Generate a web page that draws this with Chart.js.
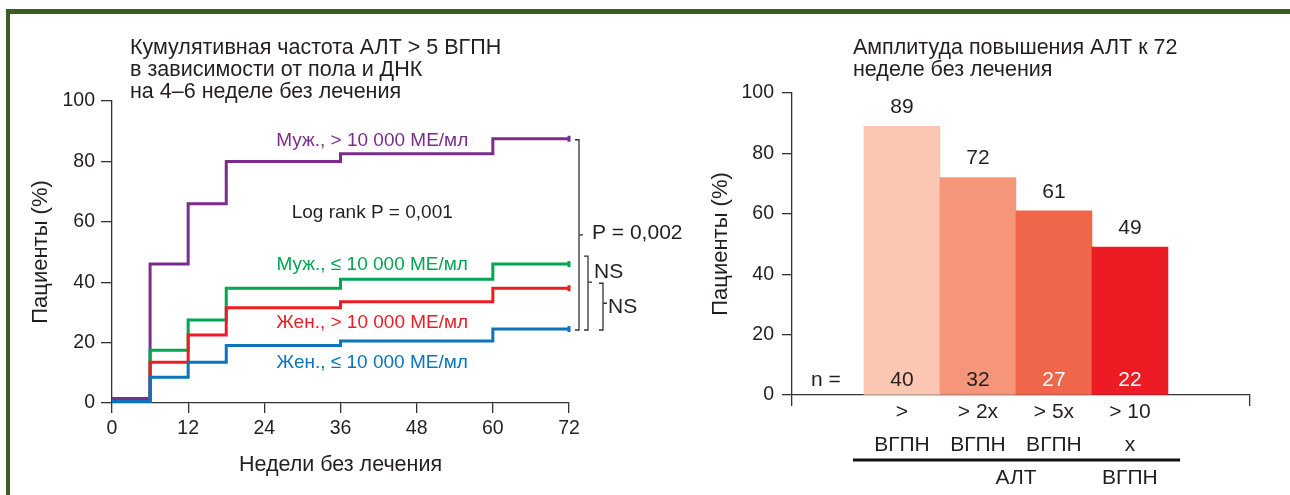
<!DOCTYPE html>
<html>
<head>
<meta charset="utf-8">
<script src="https://cdn.jsdelivr.net/npm/chart.js@4.4.1/dist/chart.umd.min.js"></script>
<style>
  body { margin: 0; background: #fff; width: 1290px; height: 495px; overflow: hidden; position: relative; }
  #frame { position: absolute; left: 6px; top: 9px; right: -10px; bottom: -10px;
           border-top: 5px solid #3b5d1e; border-left: 4px solid #3b5d1e; }
  canvas { position: absolute; top: 0; }
  #left { left: 0; }
  #right { left: 700px; }
</style>
</head>
<body>
<div id="frame"></div>
<canvas id="left" width="700" height="495"></canvas>
<canvas id="right" width="590" height="495"></canvas>
<script>
// левый график: кумулятивная частота
const weeks = [0, 6, 12, 18, 36, 60, 72];
const maleHigh = [1.5, 46, 66, 80, 82.5, 87.5, 87.5];
const maleLow = [0.5, 17.5, 27.5, 38, 41, 46, 46];
const femaleHigh = [0.5, 13.5, 22.5, 31.5, 33.5, 38, 38];
const femaleLow = [0.5, 8.5, 13.5, 19, 20.5, 24.5, 24.5];
const seriesNames = ["Муж., > 10 000 МЕ/мл", "Муж., ≤ 10 000 МЕ/мл", "Жен., > 10 000 МЕ/мл", "Жен., ≤ 10 000 МЕ/мл"];

// правый график: амплитуда повышения
const ampLabels = [[">", "ВГПН"], ["> 2x", "ВГПН"], ["> 5x", "ВГПН"], ["> 10", "x", "ВГПН"]];
const ampValues = [89, 72, 61, 49];
const ampN = [40, 32, 27, 22];

const FONT = '"Liberation Sans", Arial, sans-serif';
const INK = "#231f20";
const AXIS = "#333";
const colors = ["#7b2d8e", "#00a651", "#ed1c24", "#0a74bd"];
const barColors = ["#fbc7b2", "#f5967a", "#f0664a", "#ed1c24"];

Chart.defaults.font.family = FONT;
Chart.defaults.color = INK;

const mkSet = (label, vals, color) => ({
  label: label,
  data: weeks.map((w, i) => ({ x: w, y: vals[i] })),
  borderColor: color,
  borderWidth: 3,
  stepped: true,
  fill: false,
  clip: false,
  pointStyle: "line",
  rotation: 90,
  pointBorderColor: color,
  pointBorderWidth: 3,
  pointRadius: weeks.map((w, i) => (i === weeks.length - 1 ? 3 : 0)),
});

const leftText = {
  id: "leftText",
  afterDraw(c) {
    const ctx = c.ctx, x = c.scales.x, y = c.scales.y;
    ctx.save();
    ctx.fillStyle = INK;
    ctx.font = "21.5px " + FONT;
    ctx.textAlign = "left";
    ctx.textBaseline = "middle";
    ["Кумулятивная частота АЛТ > 5 ВГПН", "в зависимости от пола и ДНК", "на 4–6 неделе без лечения"]
      .forEach((t, i) => ctx.fillText(t, 130, 48 + i * 22));

    // подписи серий
    ctx.textAlign = "center";
    ctx.font = "19px " + FONT;
    const ly = [86.7, 45.7, 26.5, 13.2];
    seriesNames.forEach((t, i) => {
      ctx.fillStyle = colors[i];
      ctx.fillText(t, x.getPixelForValue(41), y.getPixelForValue(ly[i]));
    });
    ctx.fillStyle = INK;
    ctx.fillText("Log rank P = 0,001", x.getPixelForValue(41), y.getPixelForValue(62.9));

    // скобки сравнения
    const last = a => y.getPixelForValue(a[a.length - 1]);
    const r = x.right;
    ctx.strokeStyle = AXIS;
    ctx.lineWidth = 1.3;
    const bracket = (bx, top, bot, tickY) => {
      ctx.beginPath();
      ctx.moveTo(bx - 4, top); ctx.lineTo(bx, top); ctx.lineTo(bx, bot); ctx.lineTo(bx - 4, bot);
      ctx.moveTo(bx, tickY); ctx.lineTo(bx + 4, tickY);
      ctx.stroke();
    };
    const pTop = last(maleHigh) + 1, bot = last(femaleLow) + 1;
    bracket(r + 10, pTop, bot, (pTop + bot) / 2);
    const ns1Top = last(maleLow) - 8;
    bracket(r + 19, ns1Top, bot, ns1Top + 26);
    const ns2Top = last(femaleHigh) - 5;
    bracket(r + 34, ns2Top, bot, ns2Top + 20);
    ctx.font = "21px " + FONT;
    ctx.textAlign = "left";
    ctx.fillStyle = INK;
    ctx.fillText("P = 0,002", r + 23, (pTop + bot) / 2 - 2);
    ctx.fillText("NS", r + 25, ns1Top + 16);
    ctx.fillText("NS", r + 39, ns2Top + 24);
    ctx.restore();
  }
};

new Chart(document.getElementById("left"), {
  type: "line",
  data: {
    datasets: [
      mkSet(seriesNames[3], femaleLow, colors[3]),
      mkSet(seriesNames[2], femaleHigh, colors[2]),
      mkSet(seriesNames[1], maleLow, colors[1]),
      mkSet(seriesNames[0], maleHigh, colors[0]),
    ],
  },
  options: {
    responsive: false,
    animation: false,
    layout: { padding: { top: 101, right: 131, left: 0, bottom: 0 } },
    plugins: { legend: { display: false }, tooltip: { enabled: false } },
    scales: {
      x: {
        type: "linear", min: 0, max: 72,
        ticks: { stepSize: 12, font: { size: 19.5 }, color: INK, padding: 4 },
        grid: { drawOnChartArea: false, tickLength: 10, color: AXIS, lineWidth: 1.3 },
        border: { color: AXIS, width: 1.3 },
        title: { display: true, text: "Недели без лечения", font: { size: 21.5 }, color: INK, padding: { top: 0, bottom: 17 } },
        afterFit: s => { s.height = 92; },
      },
      y: {
        min: 0, max: 100,
        ticks: { stepSize: 20, font: { size: 19.5 }, color: INK, padding: 6 },
        grid: { drawOnChartArea: false, tickLength: 11, color: AXIS, lineWidth: 1.3 },
        border: { color: AXIS, width: 1.3 },
        title: { display: true, text: "Пациенты (%)", font: { size: 22 }, color: INK, padding: { top: 28, bottom: 0 } },
        afterFit: s => { s.width = 112; },
      },
    },
  },
  plugins: [leftText],
});

// правый график
const X_MIN = -0.447, X_MAX = 5.58;

const rightText = {
  id: "rightText",
  afterDraw(c) {
    const ctx = c.ctx, x = c.scales.x, y = c.scales.y;
    ctx.save();
    ctx.fillStyle = INK;
    ctx.font = "21.5px " + FONT;
    ctx.textAlign = "left";
    ctx.textBaseline = "middle";
    ["Амплитуда повышения АЛТ к 72", "неделе без лечения"].forEach((t, i) => ctx.fillText(t, 153, 48 + i * 22));

    ctx.textAlign = "center";
    ctx.font = "21px " + FONT;
    ampValues.forEach((v, i) => {
      const px = x.getPixelForValue(i + 1);
      ctx.fillStyle = INK;
      ctx.fillText(String(v), px, y.getPixelForValue(v) - 19);
      ctx.fillStyle = i < 2 ? INK : "#fff";
      ctx.fillText(String(ampN[i]), px, y.getPixelForValue(5));
    });
    ctx.fillStyle = INK;
    ctx.fillText("n =", x.getPixelForValue(0), y.getPixelForValue(5));

    // линия под подписями и общая подпись АЛТ
    ctx.strokeStyle = "#111";
    ctx.lineWidth = 3;
    ctx.beginPath();
    ctx.moveTo(x.getPixelForValue(0.355), x.top + 65);
    ctx.lineTo(x.getPixelForValue(4.66), x.top + 65);
    ctx.stroke();
    ctx.fillText("АЛТ", x.getPixelForValue(2.5), x.top + 83);
    ctx.restore();
  }
};

new Chart(document.getElementById("right"), {
  type: "bar",
  data: {
    datasets: [{
      data: ampValues.map((v, i) => ({ x: i + 1, y: v })),
      backgroundColor: barColors,
      borderWidth: 0,
      barPercentage: 1,
      categoryPercentage: 1,
    }],
  },
  options: {
    responsive: false,
    animation: false,
    layout: { padding: { top: 93, right: 40, left: 0, bottom: 0 } },
    plugins: { legend: { display: false }, tooltip: { enabled: false } },
    scales: {
      x: {
        type: "linear", min: X_MIN, max: X_MAX, offset: false,
        afterBuildTicks: s => { s.ticks = [X_MIN, 1, 2, 3, 4, X_MAX].map(v => ({ value: v })); },
        ticks: {
          font: { size: 21, lineHeight: 1.57 }, color: INK, padding: -10, maxRotation: 0, autoSkip: false,
          callback: (v, i) => (i >= 1 && i <= 4 ? ampLabels[i - 1] : ""),
        },
        grid: {
          offset: false, drawOnChartArea: false, tickLength: 11, lineWidth: 1.3,
          color: ctx => (ctx.index === 0 || ctx.index === 5 ? AXIS : "rgba(0,0,0,0)"),
        },
        border: { color: AXIS, width: 1.3 },
        afterFit: s => { s.height = 100; },
      },
      y: {
        min: 0, max: 100,
        ticks: { stepSize: 20, font: { size: 19.5 }, color: INK, padding: 8 },
        grid: { drawOnChartArea: false, tickLength: 10, color: AXIS, lineWidth: 1.3 },
        border: { color: AXIS, width: 1.3 },
        title: { display: true, text: "Пациенты (%)", font: { size: 22 }, color: INK, padding: { top: 8, bottom: 0 } },
        afterFit: s => { s.width = 92; },
      },
    },
  },
  plugins: [rightText],
});
</script>
</body>
</html>
